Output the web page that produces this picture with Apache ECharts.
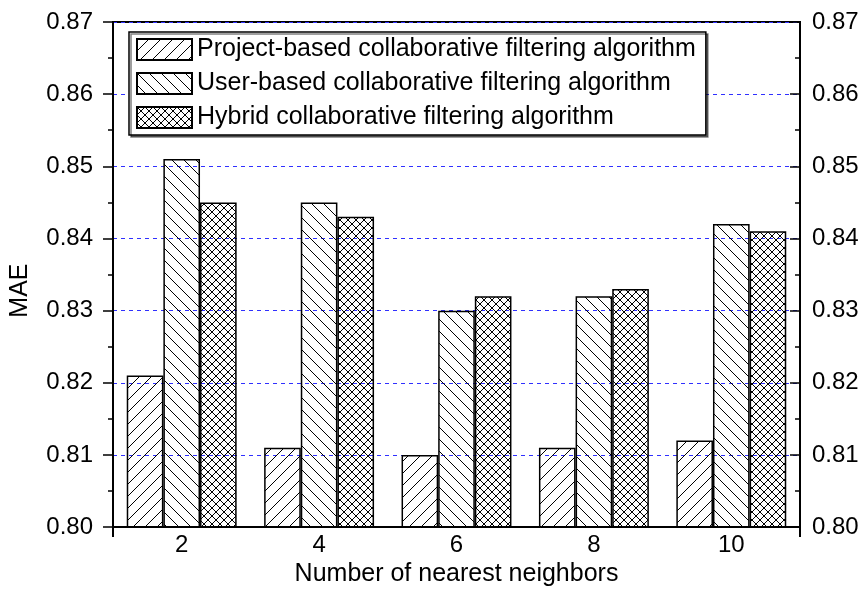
<!DOCTYPE html>
<html><head><meta charset="utf-8">
<script src="https://cdn.jsdelivr.net/npm/echarts@6/dist/echarts.min.js"></script>
<style>html,body{margin:0;padding:0;background:#fff}#c{width:863px;height:592px}</style>
</head><body><div id="c"></div>
<script>
const categories = ['2', '4', '6', '8', '10'];
const seriesNames = [
  'Project-based collaborative filtering algorithm',
  'User-based collaborative filtering algorithm',
  'Hybrid collaborative filtering algorithm'
];
const projectBased = [0.821, 0.811, 0.810, 0.811, 0.812];
const userBased = [0.851, 0.845, 0.830, 0.832, 0.842];
const hybrid = [0.845, 0.843, 0.832, 0.833, 0.841];
const yMin = 0.80, yMax = 0.87, yStep = 0.01;

function hatch(kind, size) {
  const c = document.createElement('canvas');
  c.width = size; c.height = size;
  const g = c.getContext('2d');
  g.strokeStyle = '#000'; g.lineWidth = 1;
  function fwd() { // "/"
    for (let k = -1; k <= 1; k++) {
      g.beginPath(); g.moveTo(k * size, size); g.lineTo(k * size + size, 0); g.stroke();
    }
  }
  function back() { // "\"
    for (let k = -1; k <= 1; k++) {
      g.beginPath(); g.moveTo(k * size, 0); g.lineTo(k * size + size, size); g.stroke();
    }
  }
  if (kind === 'fwd') fwd();
  else if (kind === 'back') back();
  else { fwd(); back(); }
  return c;
}

const font = 'Arial, "Liberation Sans", sans-serif';
const patterns = [hatch('fwd', 12), hatch('back', 12), hatch('cross', 8)];
const datas = [projectBased, userBased, hybrid];

const chart = echarts.init(document.getElementById('c'));
chart.setOption({
  animation: false,
  textStyle: { fontFamily: font, color: '#000' },
  grid: { left: 113, right: 63, top: 22, bottom: 64, show: true, borderColor: '#000', borderWidth: 2 },
  legend: {
    orient: 'vertical', left: 129, top: 32,
    padding: [5, 10, 5, 7], itemGap: 9,
    itemWidth: 55, itemHeight: 21, icon: 'rect',
    borderColor: '#000', borderWidth: 1.5, backgroundColor: '#fff',
    shadowColor: 'rgba(0,0,0,0.5)', shadowOffsetX: 2, shadowOffsetY: 2, shadowBlur: 0,
    textStyle: { fontSize: 25, fontFamily: font, color: '#000', padding: [0, 0, 0, 0] },
    data: seriesNames
  },
  xAxis: {
    type: 'category', data: categories,
    name: 'Number of nearest neighbors', nameLocation: 'middle', nameGap: 30,
    nameTextStyle: { fontSize: 25, fontFamily: font, color: '#000' },
    axisLine: { lineStyle: { color: '#000', width: 2 } },
    axisTick: { show: true, length: 10, lineStyle: { color: '#000', width: 2 },
      interval: function (i) { return i === 0; } },
    axisLabel: { fontSize: 24, fontFamily: font, color: '#000', margin: 6 },
    splitLine: { show: false }
  },
  yAxis: [{
    type: 'value', min: yMin, max: yMax, interval: yStep, position: 'left',
    name: 'MAE', nameLocation: 'middle', nameGap: 80,
    nameTextStyle: { fontSize: 25, fontFamily: font, color: '#000', padding: [0, 32, 0, 0] },
    axisLine: { show: true, lineStyle: { color: '#000', width: 2 } },
    axisTick: { show: true, inside: false, length: 10, lineStyle: { color: '#000', width: 1.5 } },
    minorTick: { show: true, splitNumber: 2, length: 5, lineStyle: { color: '#000', width: 1.5 } },
    axisLabel: { fontSize: 24, fontFamily: font, color: '#000', margin: 20,
      formatter: v => v.toFixed(2) },
    splitLine: { show: true, lineStyle: { color: '#3030ff', width: 1, type: [4, 4] } }
  }, {
    type: 'value', min: yMin, max: yMax, interval: yStep, position: 'right',
    axisLine: { show: true, lineStyle: { color: '#000', width: 2 } },
    axisTick: { show: true, inside: true, length: 10, lineStyle: { color: '#000', width: 1.5 } },
    minorTick: { show: true, splitNumber: 2, length: 5, lineStyle: { color: '#000', width: 1.5 } },
    axisLabel: { fontSize: 24, fontFamily: font, color: '#000', margin: 12,
      formatter: v => v.toFixed(2) },
    splitLine: { show: false }
  }],
  series: seriesNames.map((n, i) => ({
    name: n, type: 'bar', yAxisIndex: 0, data: datas[i],
    barGap: '0%', barCategoryGap: '20%',
    itemStyle: { color: { image: patterns[i], repeat: 'repeat' }, borderColor: '#000', borderWidth: 1.5 }
  }))
});
</script></body></html>
